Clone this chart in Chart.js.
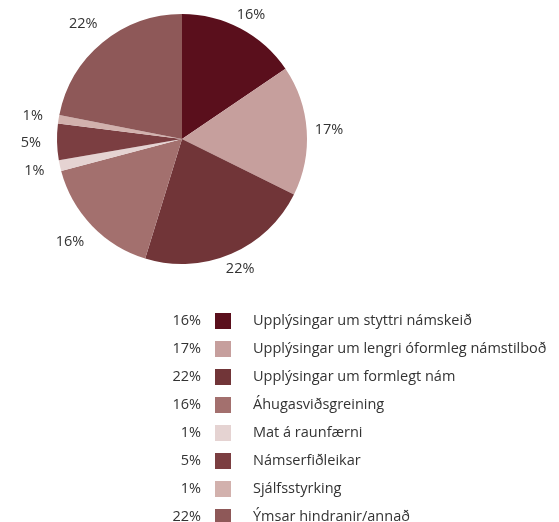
<!DOCTYPE html>
<html>
<head>
<meta charset="utf-8">
<script src="https://cdn.jsdelivr.net/npm/chart.js@4"></script>
<style>
  html, body { margin: 0; padding: 0; background: #fff; }
  #wrap { width: 559px; height: 522px; position: relative; }
</style>
</head>
<body>
<div id="wrap"><canvas id="pieChart" width="559" height="522"></canvas></div>
<script>
// flokkar
const categories = [
    'Upplýsingar um styttri námskeið',
    'Upplýsingar um lengri óformleg námstilboð',
    'Upplýsingar um formlegt nám',
    'Áhugasviðsgreining',
    'Mat á raunfærni',
    'Námserfiðleikar',
    'Sjálfsstyrking',
    'Ýmsar hindranir/annað'
];

// hlutföll (lesin af myndinni)
const shares = [15.5, 16.8, 22.4, 16.1, 1.4, 4.7, 1.1, 21.9];
const percentLabels = ['16%', '17%', '22%', '16%', '1%', '5%', '1%', '22%'];

const sliceColors = ['#5a0f1c', '#c69f9d', '#713538', '#a3706e', '#e5d3d2', '#7b3e41', '#d2b1ad', '#8e5858'];

const FONT = '"Open Sans", "Noto Sans", sans-serif';
const TEXT_COLOR = '#333333';

// prósentur utan við sneiðar
const outerLabels = {
    id: 'outerLabels',
    afterDatasetsDraw(chart) {
        const ctx = chart.ctx;
        const arcs = chart.getDatasetMeta(0).data;
        ctx.save();
        ctx.font = '14.5px ' + FONT;
        ctx.fillStyle = TEXT_COLOR;
        ctx.textAlign = 'center';
        ctx.textBaseline = 'middle';
        arcs.forEach((arc, i) => {
            const mid = (arc.startAngle + arc.endAngle) / 2;
            const dx = Math.cos(mid);
            const dy = Math.sin(mid);
            const w = ctx.measureText(percentLabels[i]).width;
            const gap = dx < 0 ? 16 : 8;
            const x = arc.x + dx * (arc.outerRadius + gap) + dx * w / 2;
            const y = arc.y + dy * (arc.outerRadius + gap) + dy * 8;
            ctx.fillText(percentLabels[i], x, y);
        });
        ctx.restore();
    }
};

// skýringar neðst
const tableLegend = {
    id: 'tableLegend',
    afterDraw(chart) {
        const ctx = chart.ctx;
        const colors = chart.data.datasets[0].backgroundColor;
        ctx.save();
        ctx.font = '14.5px ' + FONT;
        ctx.textBaseline = 'middle';
        chart.data.labels.forEach((label, i) => {
            const y = 321 + i * 28;
            ctx.fillStyle = TEXT_COLOR;
            ctx.textAlign = 'right';
            ctx.fillText(percentLabels[i], 201, y);
            ctx.fillStyle = colors[i];
            ctx.fillRect(215, y - 8, 16, 16);
            ctx.fillStyle = TEXT_COLOR;
            ctx.textAlign = 'left';
            ctx.fillText(label, 253, y);
        });
        ctx.restore();
    }
};

const chart = new Chart(document.getElementById('pieChart'), {
    type: 'pie',
    data: {
        labels: categories,
        datasets: [{
            data: shares,
            backgroundColor: sliceColors,
            borderWidth: 0
        }]
    },
    options: {
        responsive: false,
        animation: false,
        layout: {
            padding: { top: 14, bottom: 258, left: 57, right: 252 }
        },
        plugins: {
            legend: { display: false },
            tooltip: { enabled: false }
        }
    },
    plugins: [outerLabels, tableLegend]
});
</script>
</body>
</html>
